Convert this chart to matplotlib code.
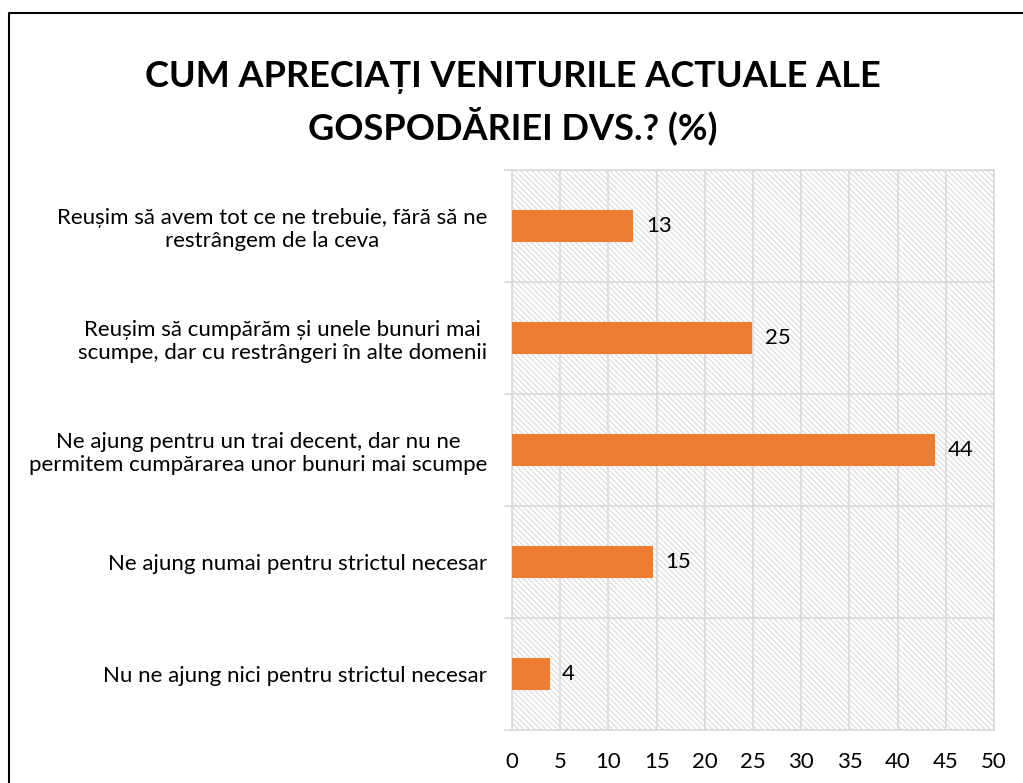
import numpy as np
import matplotlib.pyplot as plt
from matplotlib.patches import Rectangle
from matplotlib.lines import Line2D

# Data (top to bottom, as shown)
categories = [
    "Reușim să avem tot ce ne trebuie, fără să ne\nrestrângem de la ceva",
    "Reușim să cumpărăm și unele bunuri mai\nscumpe, dar cu restrângeri în alte domenii",
    "Ne ajung pentru un trai decent, dar nu ne\npermitem cumpărarea unor bunuri mai scumpe",
    "Ne ajung numai pentru strictul necesar",
    "Nu ne ajung nici pentru strictul necesar",
]
values = [12.6, 24.9, 43.9, 14.6, 3.9]
labels = ["13", "25", "44", "15", "4"]
title = "CUM APRECIAȚI VENITURILE ACTUALE ALE\nGOSPODĂRIEI DVS.? (%)"

bar_color = "#ED7D31"
grid_color = "#D9D9D9"

plt.rcParams['font.family'] = ['Lato', 'DejaVu Sans']
plt.rcParams['hatch.color'] = grid_color
plt.rcParams['hatch.linewidth'] = 0.8

fig = plt.figure(figsize=(10.23, 7.83), dpi=100)
ax = fig.add_axes([512/1023, 1 - 730/783, (994-512)/1023, (730-170)/783])

# hatched background of the plot area
bg = Rectangle((0, 0), 1, 1, transform=ax.transAxes, facecolor='white',
               edgecolor=grid_color, linewidth=0, hatch='\\\\\\\\\\\\', zorder=0)
ax.add_patch(bg)

y = np.arange(len(categories))
ax.barh(y, values, height=0.28, color=bar_color, zorder=3)
for yi, v, lab in zip(y, values, labels):
    ax.text(v + 1.3, yi, lab, va='center', ha='left', fontsize=16, color='black', zorder=4)

ax.set_xlim(0, 50)
ax.set_ylim(len(categories) - 0.5, -0.5)
ax.set_xticks(np.arange(0, 51, 5))
ax.set_yticks(y)
ax.set_yticklabels(categories, fontsize=16, multialignment='center')
ax.set_yticks(np.arange(-0.5, len(categories), 1), minor=True)

ax.tick_params(axis='x', length=0, pad=16, labelsize=16)
ax.tick_params(axis='y', which='major', length=0, pad=18)
ax.tick_params(axis='y', which='minor', length=6, width=1.2, color=grid_color)

ax.grid(axis='x', color=grid_color, linewidth=1.2, zorder=1)
ax.grid(axis='y', which='minor', color=grid_color, linewidth=1.2, zorder=1)
ax.set_axisbelow(True)
for s in ax.spines.values():
    s.set_color(grid_color)
    s.set_linewidth(1.2)

fig.text(513/1023, 1 - 103/783, title, ha='center', va='center', fontsize=26,
         fontweight='bold', linespacing=1.4)

# outer chart frame (only left and top edges fall inside the picture)
fx = 8.5/1023
fy = 1 - 12.5/783
fig.add_artist(Line2D([fx, fx, 1.0], [0.0, fy, fy], transform=fig.transFigure,
                      color='black', linewidth=1.5))

fig.savefig('out.png', dpi=100)
